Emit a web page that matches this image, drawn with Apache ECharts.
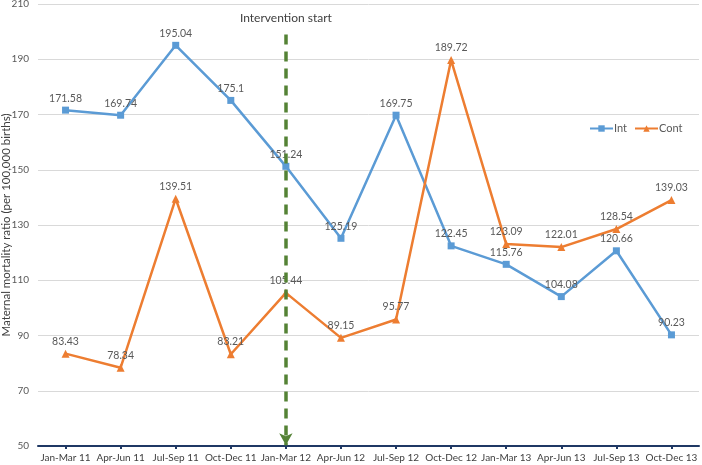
<!DOCTYPE html>
<html><head><meta charset="utf-8">
<script src="https://cdn.jsdelivr.net/npm/echarts@6/dist/echarts.min.js"></script>
<style>html,body{margin:0;padding:0;background:#fff}#c{width:702px;height:465px}</style>
</head><body><div id="c"></div>
<script>
const categories = ['Jan-Mar 11','Apr-Jun 11','Jul-Sep 11','Oct-Dec 11','Jan-Mar 12','Apr-Jun 12','Jul-Sep 12','Oct-Dec 12','Jan-Mar 13','Apr-Jun 13','Jul-Sep 13','Oct-Dec 13'];
const intValues = [171.58,169.74,195.04,175.1,151.24,125.19,169.75,122.45,115.76,104.08,120.66,90.23];
const contValues = [83.43,78.34,139.51,83.21,105.44,89.15,95.77,189.72,123.09,122.01,128.54,139.03];
const yTicks = {min:50, max:210, interval:20};
const interventionCategory = 'Jan-Mar 12';
const interventionRange = [199, 50.3];
const interventionText = 'Intervention start';
const yAxisTitle = 'Maternal mortality ratio (per 100,000 births)';

const font = 'Lato, "Open Sans", sans-serif';
const chart = echarts.init(document.getElementById('c'), null, {renderer:'canvas'});
const labelStyle = {show:true, position:'top', distance:3, color:'#595959', fontSize:10.5, fontFamily:font};
chart.setOption({
  animation:false,
  textStyle:{fontFamily:font},
  grid:{left:38, right:3, top:4, bottom:19, containLabel:false, outerBoundsMode:'none'},
  legend:{
    data:['Int','Cont'], orient:'horizontal',
    left:589, top:123, width:114, itemWidth:23, itemHeight:8, itemGap:7, padding:0,
    textStyle:{color:'#595959', fontSize:11, fontFamily:font, padding:[0,0,0,-4]}
  },
  xAxis:{
    type:'category', data:categories, boundaryGap:true,
    axisLine:{lineStyle:{color:'#1F3864', width:2}},
    axisTick:{show:true, alignWithLabel:true, length:3, lineStyle:{color:'#1F3864', width:2}},
    axisLabel:{color:'#404040', fontSize:10, margin:7, interval:0, fontFamily:font},
    splitLine:{show:false}
  },
  yAxis:{
    type:'value', min:yTicks.min, max:yTicks.max, interval:yTicks.interval,
    name:yAxisTitle, nameLocation:'middle', nameGap:26, nameRotate:90, nameMoveOverlap:false,
    nameTextStyle:{color:'#404040', fontSize:11.5, fontFamily:font},
    axisLine:{show:false}, axisTick:{show:false},
    axisLabel:{color:'#595959', fontSize:10, margin:9, fontFamily:font},
    splitLine:{lineStyle:{color:'#D9D9D9', width:1}}
  },
  series:[
    {
      name:'Int', type:'line', data:intValues,
      symbol:'rect', symbolSize:7,
      lineStyle:{color:'#5B9BD5', width:2.5}, itemStyle:{color:'#5B9BD5'},
      label:labelStyle,
      markLine:{
        silent:true, symbol:['none','arrow'], symbolSize:[10,12],
        lineStyle:{color:'#548235', width:3.5, type:[10,7]},
        label:{show:true, position:'start', distance:10, formatter:interventionText, color:'#404040', fontSize:12, fontFamily:font},
        data:[[{coord:[interventionCategory, interventionRange[0]]},{coord:[interventionCategory, interventionRange[1]]}]]
      }
    },
    {
      name:'Cont', type:'line', data:contValues,
      symbol:'triangle', symbolSize:8,
      lineStyle:{color:'#ED7D31', width:2.5}, itemStyle:{color:'#ED7D31'},
      label:labelStyle
    }
  ]
});
</script></body></html>
